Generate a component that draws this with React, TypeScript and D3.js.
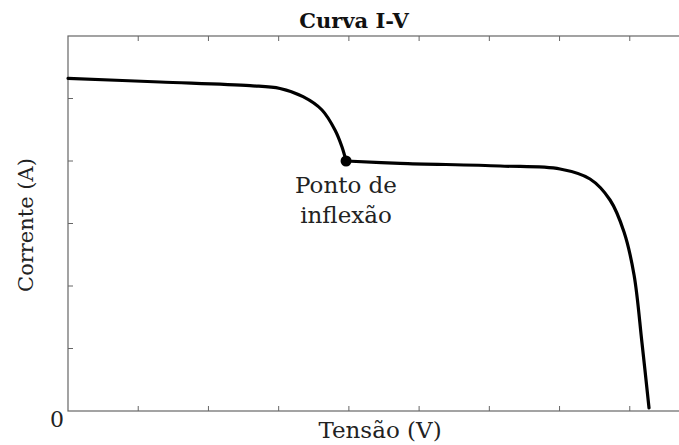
import React from "react";
import * as d3 from "d3";

// Curve before the inflection point (voltage in tick units, current in tick units)
const voltageA = [0, 1.31, 2.592, 3.019, 3.347, 3.617, 3.802, 3.902, 3.96];
const currentA = [5.323, 5.264, 5.205, 5.16, 5.029, 4.816, 4.496, 4.224, 4.0];
// Curve after the inflection point
const voltageB = [3.96, 4.729, 6.154, 7.007, 7.434, 7.719, 7.918, 8.061, 8.174, 8.274];
const currentB = [4.0, 3.963, 3.92, 3.872, 3.712, 3.376, 2.864, 2.176, 1.088, 0.048];

const xTicks = [0, 1, 2, 3, 4, 5, 6, 7, 8, 9];
const yTicks = [0, 1, 2, 3, 4, 5, 6];
const inflection = { v: 3.96, i: 4.0 };
const title = "Curva I-V";
const xLabel = "Tensão (V)";
const yLabel = "Corrente (A)";
const annotation = ["Ponto de", "inflexão"];

export default function App() {
  const W = 679, H = 445;
  const x = d3.scaleLinear().domain([0, 9]).range([68, 700]);
  const y = d3.scaleLinear().domain([0, 6]).range([411, 36]);
  const line = d3
    .line<[number, number]>()
    .x((d) => x(d[0]))
    .y((d) => y(d[1]))
    .curve(d3.curveCatmullRom.alpha(0.5));
  const segA = voltageA.map((v, k) => [v, currentA[k]] as [number, number]);
  const segB = voltageB.map((v, k) => [v, currentB[k]] as [number, number]);
  const axisColor = "#666";
  const font = "'DejaVu Serif', serif";
  const tl = 5;
  return (
    <svg width={W} height={H} style={{ position: "absolute", left: 0, top: 0, background: "#fff" }}>
      <rect x={0} y={0} width={W} height={H} fill="#fff" />
      <rect x={x(0)} y={y(6)} width={x(9) - x(0)} height={y(0) - y(6)} fill="none" stroke={axisColor} strokeWidth={1.2} />
      {xTicks.slice(1, -1).map((t) => (
        <g key={"xt" + t}>
          <line x1={x(t)} x2={x(t)} y1={y(0)} y2={y(0) - tl} stroke={axisColor} strokeWidth={1} />
          <line x1={x(t)} x2={x(t)} y1={y(6)} y2={y(6) + tl} stroke={axisColor} strokeWidth={1} />
        </g>
      ))}
      {yTicks.slice(1, -1).map((t) => (
        <g key={"yt" + t}>
          <line x1={x(0)} x2={x(0) + tl} y1={y(t)} y2={y(t)} stroke={axisColor} strokeWidth={1} />
          <line x1={x(9)} x2={x(9) - tl} y1={y(t)} y2={y(t)} stroke={axisColor} strokeWidth={1} />
        </g>
      ))}
      <text x={57} y={427} fontFamily={font} fontSize={22} textAnchor="middle" fill="#222">0</text>
      <text x={354} y={28} fontFamily={font} fontSize={21} fontWeight="bold" textAnchor="middle" fill="#111">{title}</text>
      <text x={380} y={438} fontFamily={font} fontSize={23} textAnchor="middle" fill="#222">{xLabel}</text>
      <text transform={`translate(33,225) rotate(-90)`} fontFamily={font} fontSize={21} textAnchor="middle" fill="#222">{yLabel}</text>
      <path d={line(segA) || ""} fill="none" stroke="#000" strokeWidth={3.2} strokeLinecap="round" strokeLinejoin="round" />
      <path d={line(segB) || ""} fill="none" stroke="#000" strokeWidth={3.2} strokeLinecap="round" strokeLinejoin="round" />
      <circle cx={x(inflection.v)} cy={y(inflection.i)} r={5.5} fill="#000" />
      {annotation.map((s, k) => (
        <text key={s} x={346} y={193 + k * 30} fontFamily={font} fontSize={23} textAnchor="middle" fill="#222">{s}</text>
      ))}
    </svg>
  );
}
